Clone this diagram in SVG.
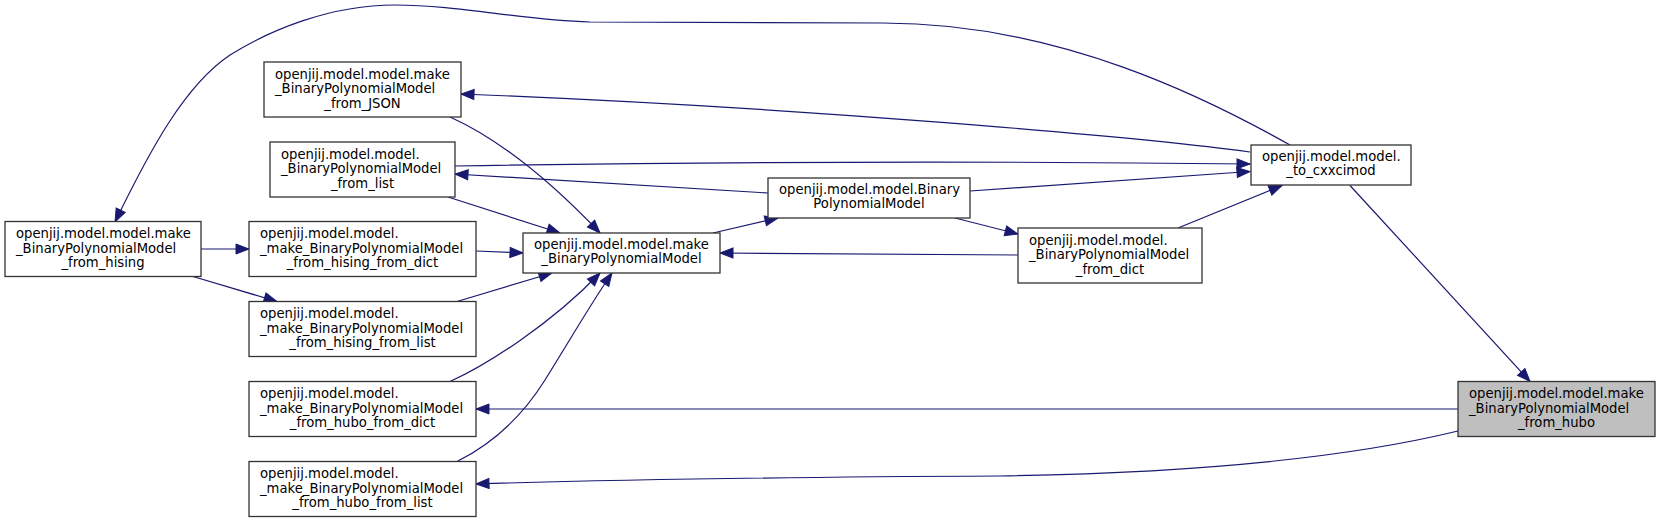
<svg xmlns="http://www.w3.org/2000/svg" width="1660" height="523" viewBox="0 0 1660 523">
<defs>
<style>
.node rect{fill:#ffffff;stroke:#333333;stroke-width:1.3}
.node.hl rect{fill:#bfbfbf}
.node text{font-family:"DejaVu Sans","Liberation Sans",sans-serif;font-size:13.2px;fill:#000}
.node text.c{text-anchor:middle}
#edges path{fill:none;stroke:#191970;stroke-width:1.2;marker-end:url(#ah)}
</style>
<marker id="ah" markerUnits="userSpaceOnUse" markerWidth="16" markerHeight="12" refX="13" refY="5" orient="auto" overflow="visible">
<path d="M0,0 L13,5 L0,10 z" fill="#191970" stroke="#191970" stroke-width="1"/>
</marker>
</defs>
<rect width="1660" height="523" fill="#ffffff"/>
<g id="edges">
<path d="M1350,185.5 L1530,381.5"/>
<path d="M1458,409 L476,409"/>
<path d="M1458,431 C1380,450 1250,472 1000,476 C800,477 600,480 476,484"/>
<path d="M1290,145 C1210,100 1060,23 883,23 C750,23 650,23 590,22 C520,20 460,5 395,5 C330,5 270,30 230,55 C185,85 150,150 115,222"/>
<path d="M1250,152 C1150,138 800,107 461,94"/>
<path d="M455,166 C700,162 1000,161 1250,164"/>
<path d="M768,193 L455,174"/>
<path d="M970,191 L1250,171.5"/>
<path d="M1178,228 L1282,185.5"/>
<path d="M713,233 L778,218"/>
<path d="M955,218 L1018,234"/>
<path d="M1018,255 L720,253"/>
<path d="M450,117 C490,135 540,170 600,233"/>
<path d="M448,197 L560,233"/>
<path d="M476,251 L523,253"/>
<path d="M457,301.5 L552,273"/>
<path d="M201,249 L249,249"/>
<path d="M193,276.5 L277,301.5"/>
<path d="M450,381.5 C485,366 550,325 600,273"/>
<path d="M457,461.5 C490,445 520,420 545,380 C570,340 590,305 612,273"/>
</g>
<g id="n_from_hubo" class="node hl">
<rect x="1458" y="381.5" width="197" height="55"/>
<text x="1469" y="398.2">openjij.model.model.make</text>
<text x="1469" y="412.6">_BinaryPolynomialModel</text>
<text class="c" x="1556.5" y="427">_from_hubo</text>
</g>
<g id="n_to_cxxcimod" class="node">
<rect x="1251" y="145" width="160" height="40"/>
<text x="1262" y="161.3">openjij.model.model.</text>
<text class="c" x="1331" y="175.3">_to_cxxcimod</text>
</g>
<g id="n_from_hising" class="node">
<rect x="5" y="221.5" width="196" height="55"/>
<text x="16" y="238.2">openjij.model.model.make</text>
<text x="16" y="252.6">_BinaryPolynomialModel</text>
<text class="c" x="103" y="267">_from_hising</text>
</g>
<g id="n_from_JSON" class="node">
<rect x="264" y="62" width="197" height="55"/>
<text x="275" y="78.7">openjij.model.model.make</text>
<text x="275" y="93.1">_BinaryPolynomialModel</text>
<text class="c" x="362.5" y="107.5">_from_JSON</text>
</g>
<g id="n_from_list" class="node">
<rect x="270" y="142" width="185" height="55"/>
<text x="281" y="158.7">openjij.model.model.</text>
<text x="281" y="173.1">_BinaryPolynomialModel</text>
<text class="c" x="362.5" y="187.5">_from_list</text>
</g>
<g id="n_BinaryPolynomialModel" class="node">
<rect x="768" y="178" width="202" height="40"/>
<text x="779" y="194.3">openjij.model.model.Binary</text>
<text class="c" x="869" y="208.3">PolynomialModel</text>
</g>
<g id="n_from_dict" class="node">
<rect x="1018" y="228" width="184" height="55"/>
<text x="1029" y="244.7">openjij.model.model.</text>
<text x="1029" y="259.1">_BinaryPolynomialModel</text>
<text class="c" x="1110" y="273.5">_from_dict</text>
</g>
<g id="n_make_BPM" class="node">
<rect x="523" y="233" width="197" height="40"/>
<text x="534" y="249.3">openjij.model.model.make</text>
<text class="c" x="621.5" y="263.3">_BinaryPolynomialModel</text>
</g>
<g id="n_hising_from_dict" class="node">
<rect x="249" y="221.5" width="227" height="55"/>
<text x="260" y="238.2">openjij.model.model.</text>
<text x="260" y="252.6">_make_BinaryPolynomialModel</text>
<text class="c" x="362.5" y="267">_from_hising_from_dict</text>
</g>
<g id="n_hising_from_list" class="node">
<rect x="249" y="301.5" width="227" height="55"/>
<text x="260" y="318.2">openjij.model.model.</text>
<text x="260" y="332.6">_make_BinaryPolynomialModel</text>
<text class="c" x="362.5" y="347">_from_hising_from_list</text>
</g>
<g id="n_hubo_from_dict" class="node">
<rect x="249" y="381.5" width="227" height="55"/>
<text x="260" y="398.2">openjij.model.model.</text>
<text x="260" y="412.6">_make_BinaryPolynomialModel</text>
<text class="c" x="362.5" y="427">_from_hubo_from_dict</text>
</g>
<g id="n_hubo_from_list" class="node">
<rect x="249" y="461.5" width="227" height="55"/>
<text x="260" y="478.2">openjij.model.model.</text>
<text x="260" y="492.6">_make_BinaryPolynomialModel</text>
<text class="c" x="362.5" y="507">_from_hubo_from_list</text>
</g>
</svg>
